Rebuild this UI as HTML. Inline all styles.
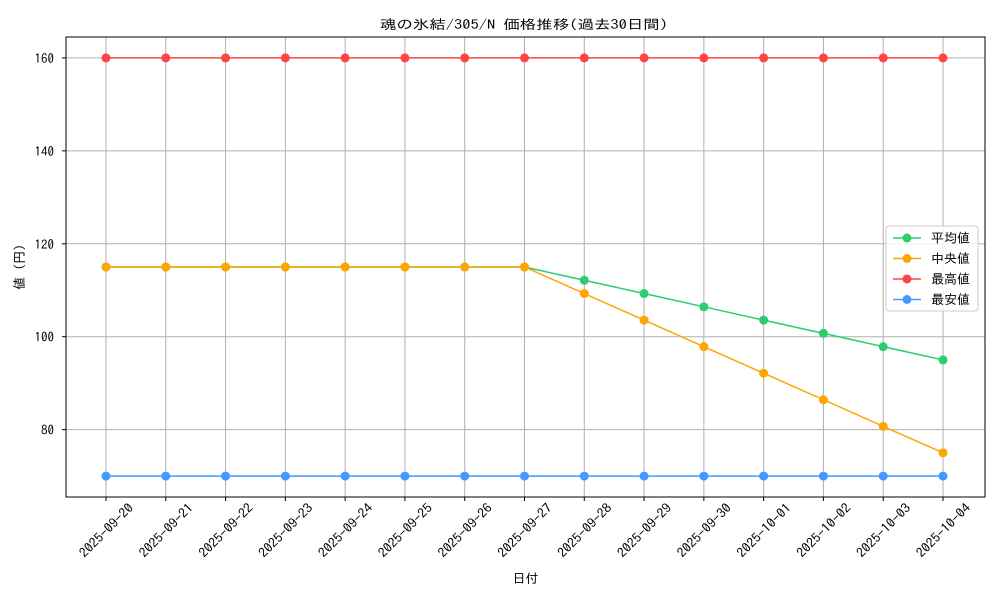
<!DOCTYPE html>
<html><head><meta charset="utf-8"><style>
html,body{margin:0;padding:0;background:#fff}
svg text{font-family:"IPAGothic","Noto Sans CJK JP",monospace;font-size:13px;fill:#000}
</style></head><body>
<svg id="chart" width="1000" height="600" xmlns="http://www.w3.org/2000/svg"></svg>
<script>
const dates=["2025-09-20","2025-09-21","2025-09-22","2025-09-23","2025-09-24","2025-09-25","2025-09-26","2025-09-27","2025-09-28","2025-09-29","2025-09-30","2025-10-01","2025-10-02","2025-10-03","2025-10-04"];
const avgVals=[115,115,115,115,115,115,115,115,112.14,109.29,106.43,103.57,100.71,97.86,95];
const medVals=[115,115,115,115,115,115,115,115,109.29,103.57,97.86,92.14,86.43,80.71,75];
const maxVals=[160,160,160,160,160,160,160,160,160,160,160,160,160,160,160];
const minVals=[70,70,70,70,70,70,70,70,70,70,70,70,70,70,70];
const yTicks=[80,100,120,140,160];
const seriesNames=["平均値","中央値","最高値","最安値"];
const seriesColors=["#2ecc71","#ffa500","#ff4444","#4499ff"];

const NS="http://www.w3.org/2000/svg";
const svg=document.getElementById('chart');
const L=66,R=985,T=37,B=497,yMin=65.5,yMax=164.5;
const x=i=>106+i*(943-106)/(dates.length-1);
const y=v=>B-(v-yMin)/(yMax-yMin)*(B-T);
function mk(tag,attrs,parent){const e=document.createElementNS(NS,tag);for(const k in attrs)e.setAttribute(k,attrs[k]);(parent||svg).appendChild(e);return e;}

const grid=mk('g',{});


dates.forEach((d,i)=>{mk('line',{x1:x(i),x2:x(i),y1:T,y2:B,stroke:'#b0b0b0','stroke-width':1},grid);});
yTicks.forEach(v=>{mk('line',{x1:L,x2:R,y1:y(v),y2:y(v),stroke:'#b0b0b0','stroke-width':1},grid);});

const xa=mk('g',{});


dates.forEach((d,i)=>{
  mk('line',{x1:x(i),x2:x(i),y1:B,y2:B+4,stroke:'#000'},xa);
  const cx=x(i),cy=B+33;
  const t=mk('text',{x:cx,y:cy+5,'text-anchor':'middle','font-size':'14',textLength:70,lengthAdjust:'spacingAndGlyphs',transform:`rotate(-45 ${cx} ${cy})`},xa);
  t.textContent=d;
  
  
});
const ya=mk('g',{});


yTicks.forEach(v=>{
  mk('line',{x1:L-4,x2:L,y1:y(v),y2:y(v),stroke:'#000'},ya);
  const t=mk('text',{x:L-12,y:y(v)+5,'text-anchor':'end','font-size':'14'},ya);
  t.textContent=v;
  
  
});

const all=[avgVals,medVals,maxVals,minVals];
all.forEach((vals,s)=>{
  const g=mk('g',{});
  
  
  mk('polyline',{points:vals.map((v,i)=>x(i)+','+y(v)).join(' '),fill:'none',stroke:seriesColors[s],'stroke-width':1.5},g);
  vals.forEach((v,i)=>{
    const c=mk('circle',{cx:x(i),cy:y(v),r:4.5,fill:seriesColors[s]},g);
    
    
  });
});

mk('rect',{x:L,y:T,width:R-L,height:B-T,fill:'none',stroke:'#000','stroke-width':1});

const title=mk('text',{x:380,y:29,'font-size':'16.5',textLength:288,lengthAdjust:'spacingAndGlyphs'});
title.textContent='魂の氷結/305/N 価格推移(過去30日間)';


const xl=mk('text',{x:(L+R)/2,y:583,'text-anchor':'middle'});
xl.textContent='日付';


const yl=mk('text',{x:24,y:(T+B)/2,'text-anchor':'middle',transform:`rotate(-90 24 ${(T+B)/2})`});
yl.textContent='値 (円)';



const lg=mk('g',{});


mk('rect',{x:886,y:226,width:92,height:85,rx:3,fill:'#fff','fill-opacity':0.85,stroke:'#ccc'},lg);
seriesNames.forEach((n,s)=>{
  const yy=238+s*20.5;
  const e=mk('g',{},lg);
  
  
  mk('line',{x1:893,x2:921,y1:yy,y2:yy,stroke:seriesColors[s],'stroke-width':1.5},e);
  mk('circle',{cx:907,cy:yy,r:4.5,fill:seriesColors[s]},e);
  const t=mk('text',{x:931,y:yy+4.5},e);
  t.textContent=n;
});
</script>
</body></html>
